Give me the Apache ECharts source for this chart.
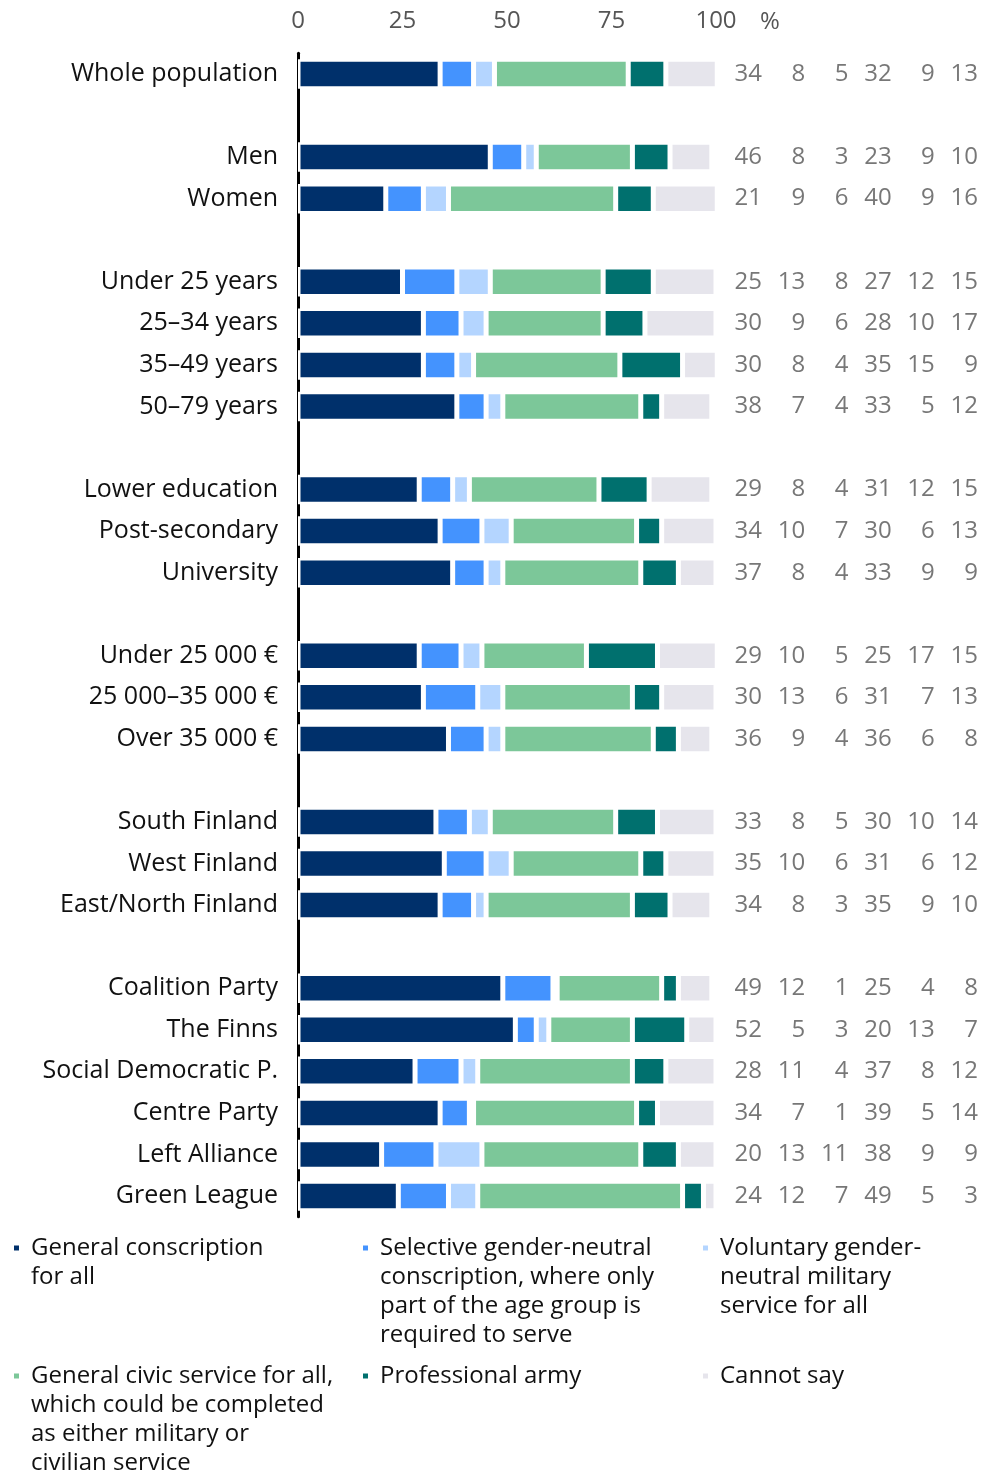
<!DOCTYPE html>
<html lang="en">
<head>
    <meta charset="UTF-8">
    <title>Views on conscription</title>
    <script src="https://cdn.jsdelivr.net/npm/echarts@6/dist/echarts.min.js"></script>
    <style>
        body { margin: 0; background: #fff; }
    </style>
</head>
<body>
    <div id="echarts" style="width: 984px; height: 1475px;"></div>
    <script>
        // groups of rows, an empty row is drawn between groups
        const categoryGroups = [
            ['Whole population'],
            ['Men', 'Women'],
            ['Under 25 years', '25–34 years', '35–49 years', '50–79 years'],
            ['Lower education', 'Post-secondary', 'University'],
            ['Under 25 000 €', '25 000–35 000 €', 'Over 35 000 €'],
            ['South Finland', 'West Finland', 'East/North Finland'],
            ['Coalition Party', 'The Finns', 'Social Democratic P.', 'Centre Party', 'Left Alliance', 'Green League']
        ];
        const seriesNames = [
            'General conscription for all',
            'Selective gender-neutral conscription, where only part of the age group is required to serve',
            'Voluntary gender-neutral military service for all',
            'General civic service for all, which could be completed as either military or civilian service',
            'Professional army',
            'Cannot say'
        ];
        const legendLines = [
            ['General conscription', 'for all'],
            ['Selective gender-neutral', 'conscription, where only', 'part of the age group is', 'required to serve'],
            ['Voluntary gender-', 'neutral military', 'service for all'],
            ['General civic service for all,', 'which could be completed', 'as either military or', 'civilian service'],
            ['Professional army'],
            ['Cannot say']
        ];
        const colors = ['#00306b', '#4493fe', '#b4d5ff', '#7cc799', '#00706e', '#e6e5ec'];
        // values in row order (same order as categoryGroups flattened)
        const generalConscription   = [34, 46, 21, 25, 30, 30, 38, 29, 34, 37, 29, 30, 36, 33, 35, 34, 49, 52, 28, 34, 20, 24];
        const selectiveConscription = [8, 8, 9, 13, 9, 8, 7, 8, 10, 8, 10, 13, 9, 8, 10, 8, 12, 5, 11, 7, 13, 12];
        const voluntaryService      = [5, 3, 6, 8, 6, 4, 4, 4, 7, 4, 5, 6, 4, 5, 6, 3, 1, 3, 4, 1, 11, 7];
        const civicService          = [32, 23, 40, 27, 28, 35, 33, 31, 30, 33, 25, 31, 36, 30, 31, 35, 25, 20, 37, 39, 38, 49];
        const professionalArmy      = [9, 9, 9, 12, 10, 15, 5, 12, 6, 9, 17, 7, 6, 10, 6, 9, 4, 13, 8, 5, 9, 5];
        const cannotSay             = [13, 10, 16, 15, 17, 9, 12, 15, 13, 9, 15, 13, 8, 14, 12, 10, 8, 7, 12, 14, 9, 3];
        const xTicks = [0, 25, 50, 75, 100];

        const allValues = [generalConscription, selectiveConscription, voluntaryService, civicService, professionalArmy, cannotSay];

        // build category list with blank gap rows
        const categories = [];
        const rowIndex = []; // -1 for gap rows, otherwise index into value arrays
        let k = 0;
        categoryGroups.forEach((g, gi) => {
            if (gi > 0) {
                categories.push(' '.repeat(gi));
                rowIndex.push(-1);
            }
            g.forEach(name => {
                categories.push(name);
                rowIndex.push(k++);
            });
        });

        const FONT = 'Open Sans';
        const L = 29; // legend line height

        const series = allValues.map((vals, si) => ({
            name: seriesNames[si],
            type: 'bar',
            stack: 'total',
            xAxisIndex: 0,
            yAxisIndex: 0,
            barWidth: 29.5,
            itemStyle: { color: colors[si], borderColor: '#fff', borderWidth: 2.5 },
            data: rowIndex.map(r => r < 0 ? '-' : vals[r])
        }));

        // numbers on the right
        const numberData = [];
        allValues.forEach((vals, si) => {
            rowIndex.forEach((r, ci) => {
                if (r >= 0) numberData.push([si + 1, ci, vals[r]]);
            });
        });
        series.push({
            type: 'scatter',
            xAxisIndex: 1,
            yAxisIndex: 1,
            symbolSize: 0,
            silent: true,
            label: {
                show: true,
                position: 'left',
                distance: 0,
                align: 'right',
                formatter: p => p.value[2],
                color: '#555',
                fontSize: 24,
                fontFamily: FONT,
                padding: [5, 0, 0, 0]
            },
            data: numberData
        });

        // one legend per item so they can sit in three columns
        // blank lines in front keep the icon level with the first text line
        const legendPos = [
            [12, 1248], [361, 1248], [701, 1248],
            [12, 1376], [361, 1376], [701, 1376]
        ];
        const legends = seriesNames.map((name, i) => {
            const n = legendLines[i].length;
            const text = new Array(n - 1).fill('').concat(legendLines[i]).join('\n');
            return {
                data: [name],
                left: legendPos[i][0],
                top: legendPos[i][1] - (2 * n - 1) * L / 2,
                padding: 0,
                icon: 'rect',
                itemWidth: 7,
                itemHeight: 7,
                selectedMode: false,
                formatter: () => text,
                textStyle: {
                    fontSize: 24,
                    lineHeight: L,
                    color: '#111',
                    fontFamily: FONT,
                    padding: [0, 0, 0, 6]
                }
            };
        });

        const myChart = echarts.init(document.querySelector('#echarts'));
        const gridTop = 53.2, gridBottom = 1475 - 1216.8;
        const option = {
            animation: false,
            legend: legends,
            grid: [
                { left: 298, right: 984 - 716, top: gridTop, bottom: gridBottom },
                { left: 718.8, right: 6, top: gridTop, bottom: gridBottom }
            ],
            xAxis: [
                {
                    type: 'value',
                    gridIndex: 0,
                    position: 'top',
                    min: 0,
                    max: 100,
                    interval: 25,
                    name: '%',
                    nameLocation: 'end',
                    nameGap: 44,
                    nameTextStyle: {
                        fontSize: 24, color: '#555', fontFamily: FONT,
                        verticalAlign: 'bottom', padding: [0, 0, 19, 0]
                    },
                    axisLine: { show: false },
                    axisTick: { show: false },
                    splitLine: { show: false },
                    axisLabel: {
                        margin: 20,
                        fontSize: 24,
                        color: '#555',
                        fontFamily: FONT,
                        customValues: xTicks
                    }
                },
                { type: 'value', gridIndex: 1, min: 0, max: 6, show: false }
            ],
            yAxis: [
                {
                    type: 'category',
                    gridIndex: 0,
                    inverse: true,
                    data: categories,
                    axisLine: { show: true, lineStyle: { color: '#000', width: 3 } },
                    axisTick: { show: false },
                    axisLabel: {
                        margin: 20,
                        fontSize: 25,
                        color: '#111',
                        fontFamily: FONT,
                        interval: 0,
                        padding: [4, 0, 0, 0]
                    }
                },
                { type: 'category', gridIndex: 1, inverse: true, data: categories, show: false }
            ],
            series: series
        };
        myChart.setOption(option);
    </script>
</body>
</html>
